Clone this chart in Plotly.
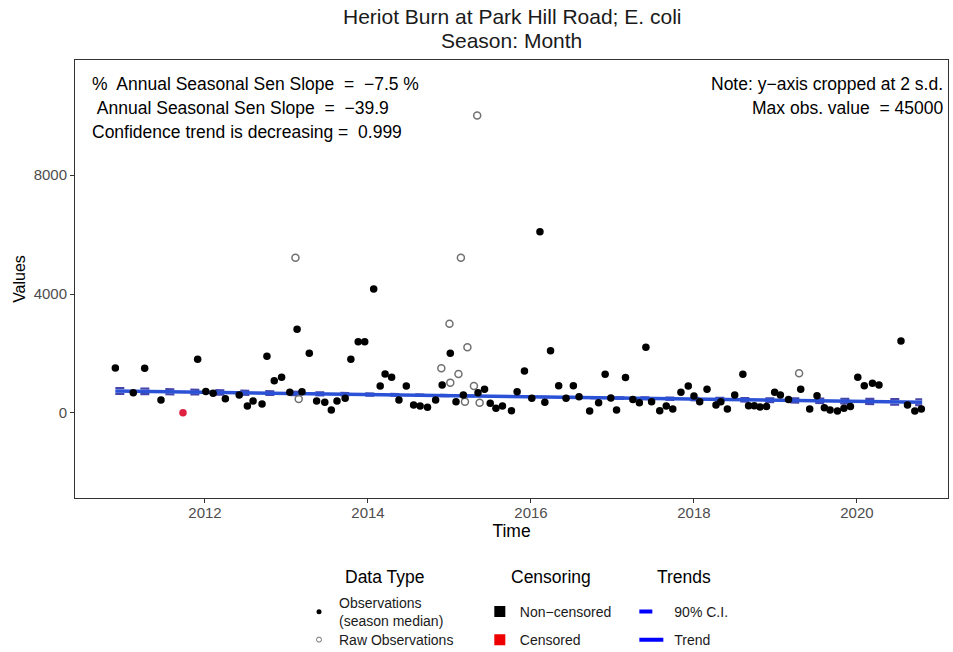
import plotly.graph_objects as go

# ---------------- data ----------------
obs_time = [2010.90, 2011.12, 2011.26, 2011.46, 2011.91, 2012.01, 2012.10, 2012.25, 2012.42,
            2012.52, 2012.59, 2012.70, 2012.76, 2012.85, 2012.94, 2013.04, 2013.13, 2013.19,
            2013.28, 2013.37, 2013.47, 2013.55, 2013.62, 2013.72, 2013.79, 2013.88, 2013.96,
            2014.07, 2014.15, 2014.21, 2014.29, 2014.38, 2014.47, 2014.56, 2014.64, 2014.73,
            2014.83, 2014.91, 2015.01, 2015.08, 2015.17, 2015.35, 2015.43, 2015.50, 2015.57,
            2015.65, 2015.76, 2015.83, 2015.92, 2016.01, 2016.11, 2016.17, 2016.24, 2016.34,
            2016.43, 2016.52, 2016.59, 2016.72, 2016.83, 2016.91, 2016.98, 2017.05, 2017.16,
            2017.25, 2017.33, 2017.41, 2017.48, 2017.58, 2017.66, 2017.74, 2017.84, 2017.93,
            2018.00, 2018.07, 2018.16, 2018.27, 2018.33, 2018.41, 2018.50, 2018.60, 2018.67,
            2018.74, 2018.81, 2018.89, 2018.99, 2019.06, 2019.16, 2019.31, 2019.42, 2019.51,
            2019.60, 2019.67, 2019.76, 2019.84, 2019.92, 2020.01, 2020.09, 2020.19, 2020.27,
            2020.54, 2020.62, 2020.71, 2020.79]
obs_value = [1513, 682, 1500, 437, 1805, 720, 660, 480, 600,
             235, 403, 303, 1905, 1087, 1199, 700, 2812, 717,
             2006, 403, 359, 101, 403, 493, 1805, 2397, 2397,
             4168, 907, 1311, 1199, 437, 907, 269, 235, 191,
             437, 941, 2006, 381, 605, 683, 795, 325, 157,
             235, 78, 717, 1412, 493, 6090, 359, 2095, 918,
             493, 918, 549, 67, 347, 1300, 500, 101, 1190,
             450, 347, 2208, 381, 78, 235, 134, 696, 907,
             571, 381, 800, 269, 381, 134, 605, 1300, 246,
             246, 200, 213, 696, 605, 450, 795, 134, 582,
             179, 101, 67, 157, 213, 1199, 918, 997, 941,
             2420, 269, 67, 134]

raw_time = [2013.11, 2013.15, 2014.90, 2015.00, 2015.01, 2015.11, 2015.14,
            2015.19, 2015.22, 2015.30, 2015.34, 2015.37, 2019.29]
raw_value = [5220, 470, 1500, 3000, 1020, 1311, 5220,
             381, 2208, 910, 10000, 340, 1334]

cens_time = [2011.73]
cens_value = [10]

trend_time = [2010.90, 2020.80]
trend_value = [740, 360]
ci_a_value = [640, 460]
ci_b_value = [840, 260]

x_ticks = [2012, 2014, 2016, 2018, 2020]
y_ticks = [0, 4000, 8000]

stats_lines = ["%\u00a0 Annual Seasonal Sen Slope\u00a0 = \u00a0\u22127.5 %",
               "\u00a0Annual Seasonal Sen Slope\u00a0 = \u00a0\u221239.9",
               "Confidence trend is decreasing =\u00a0 0.999"]
note_lines = ["Note: y\u2212axis cropped at 2 s.d.",
              "Max obs. value\u00a0 = 45000"]
legend_titles = ["Data Type", "Censoring", "Trends"]
title_lines = ["Heriot Burn at Park Hill Road; E. coli", "Season: Month"]

FONT = "Liberation Sans, Arial, sans-serif"
TREND_COL = "#2b52d6"
CI_COL = "#4646aa"

fig = go.Figure()

# CI lines (dashed) below trend line
for vals in (ci_a_value, ci_b_value):
    fig.add_trace(go.Scatter(x=trend_time, y=vals, mode="lines",
                             line=dict(color=CI_COL, width=2.2, dash="9px,16px"),
                             showlegend=False, hoverinfo="skip"))
fig.add_trace(go.Scatter(x=trend_time, y=trend_value, mode="lines",
                         line=dict(color=TREND_COL, width=3.5),
                         showlegend=False, hoverinfo="skip"))

# raw observations
fig.add_trace(go.Scatter(x=raw_time, y=raw_value, mode="markers",
                         marker=dict(symbol="circle-open", size=7, color="#707070",
                                     line=dict(width=1.5, color="#707070")),
                         showlegend=False))
# season medians
fig.add_trace(go.Scatter(x=obs_time, y=obs_value, mode="markers",
                         marker=dict(symbol="circle", size=7.5, color="black"),
                         showlegend=False))
fig.add_trace(go.Scatter(x=cens_time, y=cens_value, mode="markers",
                         marker=dict(symbol="circle", size=7.5, color="#e0203f"),
                         showlegend=False))

# ---- legend-only entries ----
fig.add_trace(go.Scatter(x=[None], y=[None], mode="markers", name="Observations<br>(season median)",
                         marker=dict(symbol="circle", size=5, color="black"),
                         legend="legend"))
fig.add_trace(go.Scatter(x=[None], y=[None], mode="markers", name="Raw Observations",
                         marker=dict(symbol="circle-open", size=5, color="#707070",
                                     line=dict(width=1, color="#707070")),
                         legend="legend4"))
fig.add_trace(go.Scatter(x=[None], y=[None], mode="markers", name="Non\u2212censored",
                         marker=dict(symbol="square", size=11, color="black"),
                         legend="legend2", legendgroup="c"))
fig.add_trace(go.Scatter(x=[None], y=[None], mode="markers", name="Censored",
                         marker=dict(symbol="square", size=11, color="#ee0000"),
                         legend="legend2", legendgroup="d"))
fig.add_trace(go.Scatter(x=[None], y=[None], mode="lines", name="90% C.I.",
                         line=dict(color="#0000ff", width=4, dash="13px,40px"),
                         legend="legend3", legendgroup="e"))
fig.add_trace(go.Scatter(x=[None], y=[None], mode="lines", name="Trend",
                         line=dict(color="#0000ff", width=4, dash="24px,40px"),
                         legend="legend3", legendgroup="f"))

annotations = []
# title, two lines
for t, py in zip(title_lines, [17, 41]):
    annotations.append(dict(text=t, xref="paper", yref="paper", x=0.5,
                            y=(498 - py) / 438, xanchor="center", yanchor="middle",
                            showarrow=False, font=dict(family=FONT, size=21, color="#1a1a1a")))
for i, t in enumerate(stats_lines):
    annotations.append(dict(text=t, xref="paper", yref="paper", x=0.0172,
                            y=0.945 - i * 0.0548, xanchor="left", yanchor="middle",
                            showarrow=False, font=dict(family=FONT, size=17.5, color="black")))
for i, t in enumerate(note_lines):
    annotations.append(dict(text=t, xref="paper", yref="paper", x=0.9966,
                            y=0.945 - i * 0.0548, xanchor="right", yanchor="middle",
                            showarrow=False, font=dict(family=FONT, size=17.5, color="black")))
# legend group titles
for t, px in zip(legend_titles, [384, 551, 684]):
    annotations.append(dict(text=t, xref="paper", yref="paper", x=(px - 75) / 873,
                            y=-(577 - 498) / 438, xanchor="center", yanchor="middle",
                            showarrow=False, font=dict(family=FONT, size=17.5, color="black")))

def leg(x, y, gap):
    return dict(orientation="v", xanchor="left", yanchor="top", x=x, y=y,
                bgcolor="rgba(0,0,0,0)", borderwidth=0,
                font=dict(family=FONT, size=14, color="#1a1a1a"), tracegroupgap=gap,
                itemclick=False, itemdoubleclick=False)

fig.update_layout(
    width=953, height=652,
    margin=dict(l=75, r=5, t=60, b=154, autoexpand=False),
    paper_bgcolor="white", plot_bgcolor="white",
    font=dict(family=FONT, color="#1a1a1a"),
    xaxis=dict(range=[2010.405, 2021.117], tickvals=x_ticks, ticktext=[str(v) for v in x_ticks],
               showgrid=False, zeroline=False, showline=True, mirror=True,
               linecolor="#333333", linewidth=1, ticks="outside", ticklen=4,
               ticklabelstandoff=-3,
               tickcolor="#333333", tickfont=dict(family=FONT, size=15, color="#4d4d4d"),
               title=dict(text="Time", font=dict(family=FONT, size=17.5, color="black"), standoff=3)),
    yaxis=dict(range=[-2860, 11870], tickvals=y_ticks, ticktext=[str(v) for v in y_ticks],
               showgrid=False, zeroline=False, showline=True, mirror=True,
               linecolor="#333333", linewidth=1, ticks="outside", ticklen=4,
               tickcolor="#333333", tickfont=dict(family=FONT, size=15, color="#4d4d4d"),
               title=dict(text="Values", font=dict(family=FONT, size=16, color="black"), standoff=4)),
    annotations=annotations,
    legend=leg(0.2566, -0.2032, 0),
    legend4=leg(0.2566, -0.2877, 0),
    legend2=leg(0.4637, -0.2237, 7),
    legend3=leg(0.6407, -0.2237, 7),
)

fig.write_html("out.html")
